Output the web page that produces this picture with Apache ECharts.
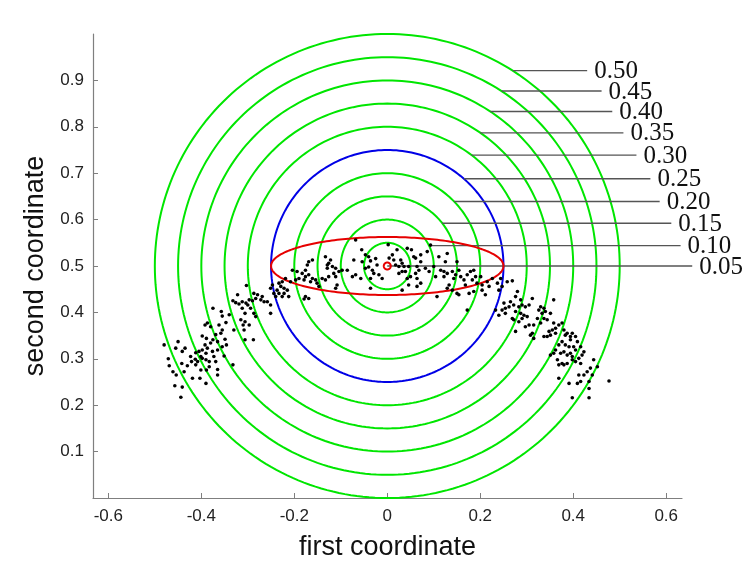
<!DOCTYPE html>
<html>
<head>
<meta charset="utf-8">
<script src="https://cdn.jsdelivr.net/npm/echarts@6/dist/echarts.min.js"></script>
<style>
  html, body { margin: 0; padding: 0; background: #fff; }
  #chart { width: 753px; height: 561px; }
</style>
</head>
<body>
<div id="chart"></div>
<script>
// axis ticks
const xTicks = [-0.6, -0.4, -0.2, 0, 0.2, 0.4, 0.6];
const yTicks = [0.1, 0.2, 0.3, 0.4, 0.5, 0.6, 0.7, 0.8, 0.9];

// circles centred at (0, 0.5)
const center = [0, 0.5];
const greenRadii = [0.05, 0.1, 0.15, 0.2, 0.3, 0.35, 0.4, 0.45, 0.5];
const blueRadius = 0.25;
const redEllipse = [0.25, 0.0625]; // semi axes
const redDotRadius = 0.0075;

// leader lines + labels (start x on circle, y, end x)
const leaderLabels = ['0.05', '0.10', '0.15', '0.20', '0.25', '0.30', '0.35', '0.40', '0.45', '0.50'];
const leaderStartX = [0.0, 0.09, 0.118, 0.144, 0.165, 0.181, 0.2, 0.222, 0.246, 0.27];
const leaderY = [0.5, 0.544, 0.592, 0.639, 0.688, 0.739, 0.787, 0.833, 0.877, 0.921];
const leaderEndX = [0.656, 0.631, 0.611, 0.586, 0.566, 0.536, 0.508, 0.484, 0.461, 0.430];

// sample points
const dots = [
  [-0.303,0.458],[-0.322,0.438],[-0.287,0.441],[-0.279,0.438],[-0.269,0.434],[-0.283,0.430],[-0.272,0.427],[-0.265,0.423],
  [-0.332,0.425],[-0.326,0.421],[-0.319,0.418],[-0.312,0.423],[-0.304,0.420],[-0.297,0.427],[-0.290,0.425],[-0.300,0.416],
  [-0.294,0.409],[-0.312,0.409],[-0.306,0.398],[-0.287,0.398],[-0.283,0.391],[-0.315,0.384],[-0.306,0.380],[-0.310,0.373],
  [-0.297,0.373],[-0.308,0.362],[-0.330,0.362],[-0.306,0.341],[-0.288,0.341],[-0.375,0.409],[-0.357,0.402],[-0.355,0.392],
  [-0.340,0.395],[-0.387,0.377],[-0.392,0.373],[-0.380,0.369],[-0.362,0.373],[-0.347,0.378],[-0.355,0.362],[-0.358,0.355],
  [-0.369,0.352],[-0.398,0.349],[-0.389,0.344],[-0.375,0.341],[-0.365,0.337],[-0.349,0.342],[-0.380,0.334],[-0.392,0.330],
  [-0.387,0.323],[-0.398,0.319],[-0.405,0.316],[-0.412,0.313],[-0.390,0.312],[-0.376,0.316],[-0.365,0.319],[-0.355,0.326],
  [-0.346,0.330],[-0.450,0.337],[-0.480,0.330],[-0.435,0.323],[-0.455,0.323],[-0.441,0.316],[-0.423,0.305],[-0.413,0.299],
  [-0.401,0.305],[-0.398,0.301],[-0.408,0.294],[-0.421,0.294],[-0.390,0.298],[-0.383,0.294],[-0.373,0.305],[-0.369,0.294],
  [-0.351,0.306],[-0.471,0.300],[-0.469,0.285],[-0.442,0.290],[-0.430,0.285],[-0.412,0.287],[-0.401,0.276],[-0.389,0.276],
  [-0.383,0.283],[-0.365,0.277],[-0.332,0.287],[-0.461,0.272],[-0.454,0.265],[-0.437,0.272],[-0.419,0.258],[-0.403,0.258],
  [-0.390,0.247],[-0.365,0.265],[-0.457,0.242],[-0.441,0.239],[-0.444,0.217],
  [-0.068,0.556],[-0.055,0.535],[-0.047,0.524],[-0.040,0.520],[-0.072,0.513],[-0.054,0.509],[-0.036,0.511],[-0.025,0.516],
  [-0.022,0.502],[-0.040,0.498],[-0.047,0.495],[-0.032,0.491],[-0.029,0.484],[-0.018,0.481],[-0.011,0.473],[-0.036,0.473],
  [-0.057,0.473],[-0.068,0.481],[-0.075,0.477],[-0.036,0.452],[-0.086,0.491],[-0.097,0.491],[-0.104,0.488],[-0.115,0.484],
  [-0.129,0.495],[-0.126,0.506],[-0.122,0.513],[-0.133,0.520],[-0.129,0.502],[-0.118,0.499],[-0.111,0.495],[-0.161,0.513],
  [-0.169,0.509],[-0.172,0.502],[-0.176,0.491],[-0.183,0.484],[-0.194,0.488],[-0.204,0.491],[-0.169,0.481],[-0.161,0.473],
  [-0.154,0.470],[-0.176,0.477],[-0.179,0.470],[-0.190,0.473],[-0.197,0.470],[-0.208,0.466],[-0.165,0.466],[-0.151,0.463],
  [-0.147,0.456],[-0.140,0.473],[-0.133,0.470],[-0.126,0.477],[-0.111,0.477],[-0.108,0.459],[-0.111,0.452],[-0.219,0.473],
  [-0.226,0.466],[-0.233,0.463],[-0.229,0.456],[-0.222,0.452],[-0.215,0.448],[-0.212,0.434],[-0.222,0.441],[-0.233,0.441],
  [-0.237,0.448],[-0.247,0.459],[-0.251,0.452],[-0.244,0.441],[-0.240,0.434],[-0.226,0.434],[-0.258,0.423],[-0.251,0.416],
  [-0.251,0.398],[-0.176,0.434],[-0.169,0.430],[-0.179,0.429],
  [0.043,0.538],[0.052,0.535],[0.021,0.535],[0.011,0.524],[0.004,0.517],[0.014,0.513],[0.029,0.513],[0.032,0.506],
  [0.025,0.499],[0.018,0.502],[0.036,0.499],[0.032,0.488],[0.025,0.484],[0.039,0.488],[0.046,0.499],[0.050,0.477],
  [0.043,0.473],[0.064,0.473],[0.061,0.484],[0.068,0.491],[0.064,0.499],[0.072,0.509],[0.061,0.517],[0.057,0.520],
  [0.072,0.524],[0.086,0.531],[0.093,0.545],[0.111,0.520],[0.129,0.527],[0.125,0.509],[0.150,0.509],[0.082,0.495],
  [0.090,0.488],[0.100,0.499],[0.115,0.491],[0.122,0.488],[0.129,0.484],[0.122,0.477],[0.104,0.477],[0.140,0.488],
  [0.143,0.473],[0.147,0.481],[0.154,0.491],[0.158,0.477],[0.165,0.470],[0.168,0.459],[0.172,0.481],[0.179,0.488],
  [0.186,0.491],[0.190,0.477],[0.183,0.470],[0.201,0.477],[0.193,0.463],[0.204,0.459],[0.215,0.466],[0.219,0.456],
  [0.226,0.473],[0.244,0.473],[0.237,0.463],[0.247,0.456],[0.204,0.448],[0.211,0.438],[0.186,0.445],[0.176,0.441],
  [0.150,0.441],[0.154,0.438],[0.140,0.448],[0.133,0.459],[0.129,0.452],[0.107,0.434],[0.072,0.463],[0.064,0.456],
  [0.046,0.459],[0.032,0.448],[0.172,0.405],[0.240,0.448],[0.240,0.394],[0.233,0.405],[0.002,0.546],
  [0.258,0.466],[0.269,0.468],[0.280,0.445],[0.276,0.434],[0.287,0.427],[0.265,0.423],[0.251,0.420],[0.254,0.409],
  [0.262,0.412],[0.272,0.416],[0.247,0.405],[0.254,0.398],[0.283,0.412],[0.290,0.416],[0.297,0.412],[0.305,0.416],
  [0.312,0.430],[0.276,0.402],[0.287,0.398],[0.294,0.394],[0.301,0.391],[0.272,0.384],[0.283,0.380],[0.290,0.387],
  [0.297,0.369],[0.305,0.373],[0.276,0.359],[0.269,0.387],[0.330,0.412],[0.337,0.409],[0.326,0.405],[0.333,0.398],
  [0.340,0.402],[0.351,0.398],[0.358,0.427],[0.323,0.387],[0.337,0.387],[0.344,0.384],[0.330,0.377],[0.315,0.373],
  [0.358,0.377],[0.362,0.366],[0.369,0.373],[0.376,0.377],[0.380,0.362],[0.383,0.351],[0.387,0.355],[0.394,0.348],
  [0.398,0.355],[0.348,0.359],[0.351,0.351],[0.344,0.348],[0.337,0.348],[0.355,0.362],[0.362,0.355],[0.312,0.355],
  [0.315,0.344],[0.308,0.351],[0.394,0.341],[0.405,0.348],[0.409,0.337],[0.401,0.326],[0.391,0.326],[0.383,0.330],
  [0.376,0.337],[0.369,0.330],[0.362,0.319],[0.373,0.312],[0.380,0.315],[0.387,0.308],[0.394,0.312],[0.398,0.305],
  [0.405,0.319],[0.416,0.326],[0.423,0.315],[0.419,0.308],[0.412,0.301],[0.416,0.290],[0.405,0.294],[0.398,0.298],
  [0.387,0.290],[0.380,0.287],[0.376,0.290],[0.366,0.298],[0.369,0.287],[0.351,0.308],[0.358,0.312],[0.444,0.298],
  [0.452,0.283],[0.437,0.280],[0.430,0.272],[0.423,0.265],[0.412,0.265],[0.416,0.251],[0.409,0.247],[0.391,0.247],
  [0.369,0.258],[0.434,0.251],[0.441,0.265],[0.434,0.236],[0.477,0.252],[0.398,0.216],[0.434,0.216]
];

const GREEN = '#00e600';
const BLUE = '#0000e6';
const RED = '#e60000';

function ellipseItem(params, api) {
  const cx = api.value(0), cy = api.value(1), rx = api.value(2), ry = api.value(3);
  const pts = [];
  for (let i = 0; i <= 240; i++) {
    const t = i / 240 * Math.PI * 2;
    pts.push(api.coord([cx + rx * Math.cos(t), cy + ry * Math.sin(t)]));
  }
  return {
    type: 'polyline',
    shape: { points: pts },
    style: { fill: null, stroke: api.visual('color'), lineWidth: 2 }
  };
}

function leaderItem(params, api) {
  const p1 = api.coord([api.value(0), api.value(1)]);
  const p2 = api.coord([api.value(2), api.value(1)]);
  return {
    type: 'group',
    children: [
      { type: 'line', shape: { x1: p1[0], y1: p1[1], x2: p2[0], y2: p2[1] },
        style: { stroke: '#555', lineWidth: 1.4 } },
      { type: 'text', x: p2[0] + 7, y: p2[1] + 1,
        style: { text: leaderLabels[params.dataIndex], fill: '#111', fontSize: 25,
                 fontFamily: '"Liberation Serif", serif', verticalAlign: 'middle', align: 'left' } }
    ]
  };
}

const axisFont = { fontFamily: '"Liberation Sans", Arial, sans-serif', color: '#222', fontSize: 17 };
const nameFont = { fontFamily: '"Liberation Sans", Arial, sans-serif', color: '#111', fontSize: 27 };

const chart = echarts.init(document.getElementById('chart'), null, { renderer: 'canvas' });
chart.setOption({
  animation: false,
  backgroundColor: '#fff',
  grid: { left: 93, right: 71, top: 34, bottom: 63, containLabel: false, outerBoundsMode: 'none' },
  xAxis: {
    type: 'value', min: -0.633, max: 0.634,
    name: 'first coordinate', nameLocation: 'middle', nameGap: 36, nameTextStyle: nameFont,
    axisLine: { show: true, onZero: false, lineStyle: { color: '#7f7f7f', width: 1.2 } },
    axisTick: { show: true, inside: true, length: 5, customValues: xTicks, lineStyle: { color: '#7f7f7f' } },
    axisLabel: Object.assign({ margin: 10, customValues: xTicks, formatter: v => String(v) }, axisFont),
    splitLine: { show: false }
  },
  yAxis: {
    type: 'value', min: 0, max: 1,
    name: 'second coordinate', nameLocation: 'middle', nameGap: 42, nameTextStyle: nameFont,
    axisLine: { show: true, onZero: false, lineStyle: { color: '#7f7f7f', width: 1.2 } },
    axisTick: { show: true, inside: true, length: 5, customValues: yTicks, lineStyle: { color: '#7f7f7f' } },
    axisLabel: Object.assign({ margin: 9, customValues: yTicks, formatter: v => String(v) }, axisFont),
    splitLine: { show: false }
  },
  series: [
    {
      type: 'custom', name: 'green', color: GREEN, renderItem: ellipseItem, clip: false,
      data: greenRadii.map(r => [center[0], center[1], r, r])
    },
    {
      type: 'custom', name: 'blue', color: BLUE, renderItem: ellipseItem, clip: false,
      data: [[center[0], center[1], blueRadius, blueRadius]]
    },
    {
      type: 'custom', name: 'leaders', renderItem: leaderItem, clip: false,
      data: leaderY.map((y, i) => [leaderStartX[i], y, leaderEndX[i]])
    },
    {
      type: 'scatter', name: 'points', symbol: 'circle', symbolSize: 3.6,
      itemStyle: { color: '#000', opacity: 1 }, data: dots
    },
    {
      type: 'custom', name: 'red', color: RED, renderItem: ellipseItem, clip: false,
      data: [
        [center[0], center[1], redEllipse[0], redEllipse[1]],
        [center[0], center[1], redDotRadius, redDotRadius]
      ]
    }
  ]
});
</script>
</body>
</html>
